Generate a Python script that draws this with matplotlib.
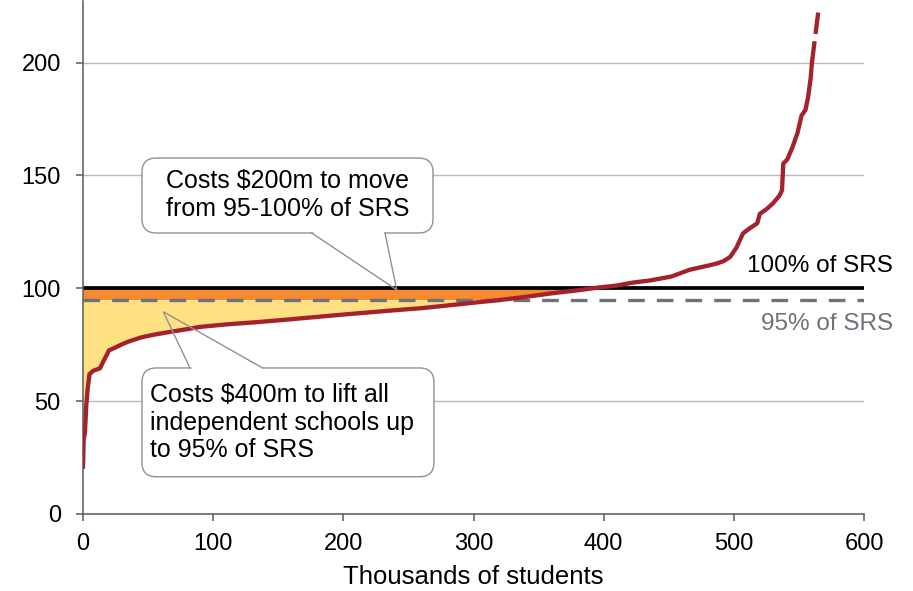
import numpy as np
import matplotlib
matplotlib.use("Agg")
import matplotlib.pyplot as plt
from matplotlib.patches import FancyBboxPatch

plt.rcParams['font.family'] = ['Liberation Sans', 'DejaVu Sans']

# funding per student as % of SRS, sorted, vs cumulative students (thousands)
students = [0, 0.5, 1.5, 2.5, 3.5, 5, 8, 13, 16, 20, 25, 30, 35, 45, 55, 67, 80, 90,
            110, 136, 160, 185, 213, 240, 260, 282, 300, 320, 340, 359, 380, 397,
            410, 422, 436, 452, 466, 480, 487, 492, 497, 502, 507, 512, 518, 520,
            525, 530, 535, 537, 538, 541, 545, 549, 552, 555, 557, 559, 560]
pct_srs = [21, 33, 36, 48, 55, 62, 63.5, 64.5, 68, 72.5, 73.8, 75.2, 76.4, 78.3, 79.5,
           80.7, 81.9, 82.9, 84.0, 85.1, 86.3, 87.6, 89.0, 90.3, 91.2, 92.5, 93.6,
           94.8, 96.2, 97.7, 99.1, 100.4, 101.2, 102.5, 103.5, 105.2, 108.2, 110,
           111, 112, 113.8, 118, 124.3, 126.5, 128.8, 133, 135, 137.6, 141, 143.4,
           155.3, 157, 162.4, 169, 176.5, 179, 184.5, 193, 200]
# tail beyond the axis range (dashed)
tail_students = [560, 565]
tail_pct = [200, 223]

full_srs = 100
min_srs = 95

RED = '#A3222B'
ORANGE = '#F58A2E'
YELLOW = '#FFE083'
GREY_DASH = '#6C737B'
GRID = '#B3BAC0'
BOX_EDGE = '#8C9297'

x = np.array(students, dtype=float)
y = np.array(pct_srs, dtype=float)

fig = plt.figure(figsize=(9.13, 5.91), dpi=100)
ax = fig.add_axes([83 / 913, 77 / 591, 781 / 913, 513.5 / 591])

ax.fill_between(x, y, min_srs, where=y < min_srs, interpolate=True,
                color=YELLOW, lw=0, zorder=1.5)
ax.fill_between(x, np.maximum(y, min_srs), full_srs, where=y < full_srs,
                interpolate=True, color=ORANGE, lw=0, zorder=1.5)

ax.axhline(full_srs, color='black', lw=2.7, zorder=2)
ax.axhline(min_srs, color=GREY_DASH, lw=2.4, dashes=(5, 3.6), zorder=2)

ax.plot(x, y, color=RED, lw=3.1, zorder=3, solid_joinstyle='round')
ax.plot(tail_students, tail_pct, color=RED, lw=3.1, dashes=(5, 1.7), zorder=3)

ax.set_xlim(0, 600)
ax.set_ylim(0, 227.5)
ax.set_xticks([0, 100, 200, 300, 400, 500, 600])
ax.set_yticks([0, 50, 100, 150, 200])
ax.yaxis.grid(True, color=GRID, lw=1)
ax.set_axisbelow(True)
for s in ['top', 'right']:
    ax.spines[s].set_visible(False)
for s in ['left', 'bottom']:
    ax.spines[s].set_color('#5A5A5A')
    ax.spines[s].set_linewidth(1.1)
ax.tick_params(axis='both', colors='#5A5A5A', labelcolor='black', labelsize=17,
               length=5, width=1.1)
ax.tick_params(axis='y', pad=11)
ax.tick_params(axis='x', pad=9)
ax.set_xlabel('Thousands of students', fontsize=18.5, labelpad=7)

ax.text(622, 107.2, '100% of SRS', ha='right', va='baseline', fontsize=17.5,
        color='black')
ax.text(622, 81.4, '95% of SRS', ha='right', va='baseline', fontsize=17.5,
        color=GREY_DASH)

# callout boxes
aspect = 1.3017 / 2.257


def callout(x0, x1, y0, y1, base, tip, edge_y, text, tx, ty, ha):
    box = FancyBboxPatch((x0, y0), x1 - x0, y1 - y0,
                         boxstyle='round,pad=0,rounding_size=11',
                         mutation_aspect=aspect, fc='white', ec=BOX_EDGE,
                         lw=1, zorder=5)
    ax.add_patch(box)
    ax.plot([base[0] + 0.8, base[1] - 0.8], [edge_y, edge_y], color='white',
            lw=2.2, zorder=6, solid_capstyle='butt')
    ax.plot([base[0], tip[0], base[1]], [edge_y, tip[1], edge_y],
            color=BOX_EDGE, lw=1, zorder=7, solid_joinstyle='miter')
    ax.text(tx, ty, text, ha=ha, va='center', multialignment='left',
            fontsize=18, zorder=8, linespacing=1.2)


callout(45.3, 268.9, 124.5, 157.7, (175.7, 232), (241, 99.3), 124.5,
        'Costs $200m to move\nfrom 95-100% of SRS', 157, 141.3, 'center')
callout(45.3, 269.6, 16.5, 64.7, (82.2, 138), (61.7, 89.6), 64.7,
        'Costs $400m to lift all\nindependent schools up\nto 95% of SRS',
        51.5, 40.5, 'left')

fig.savefig('out.png', dpi=100)
